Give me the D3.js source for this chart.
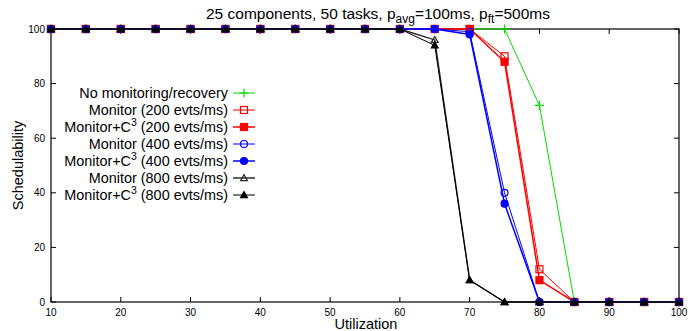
<!DOCTYPE html>
<html>
<head>
<meta charset="utf-8">
<script src="https://cdn.jsdelivr.net/npm/d3@7"></script>
<style>
  body { margin: 0; background: #fff; }
  text { font-family: "Liberation Sans", Arial, sans-serif; fill: #000; }
</style>
</head>
<body>
<svg id="chart" width="691" height="331"></svg>
<script>
// data
var utilization = [10, 15, 20, 25, 30, 35, 40, 45, 50, 55, 60, 65, 70, 75, 80, 85, 90, 95, 100];
var noMonitoring = [100, 100, 100, 100, 100, 100, 100, 100, 100, 100, 100, 100, 100, 100, 72, 0, 0, 0, 0];
var monitor200   = [100, 100, 100, 100, 100, 100, 100, 100, 100, 100, 100, 100, 100, 90, 12, 0, 0, 0, 0];
var monitorC3200 = [100, 100, 100, 100, 100, 100, 100, 100, 100, 100, 100, 100, 100, 88, 8, 0, 0, 0, 0];
var monitor400   = [100, 100, 100, 100, 100, 100, 100, 100, 100, 100, 100, 100, 99, 40, 0, 0, 0, 0, 0];
var monitorC3400 = [100, 100, 100, 100, 100, 100, 100, 100, 100, 100, 100, 100, 98, 36, 0, 0, 0, 0, 0];
var monitor800   = [100, 100, 100, 100, 100, 100, 100, 100, 100, 100, 100, 96, 8, 0, 0, 0, 0, 0, 0];
var monitorC3800 = [100, 100, 100, 100, 100, 100, 100, 100, 100, 100, 100, 94, 8, 0, 0, 0, 0, 0, 0];
var xTicks = [10, 20, 30, 40, 50, 60, 70, 80, 90, 100];
var yTicks = [0, 20, 40, 60, 80, 100];

var series = [
  {name: "No monitoring/recovery", vals: noMonitoring, color: "#00dd00", mark: "plus", w: 1},
  {name: "Monitor (200 evts/ms)", vals: monitor200, color: "#ff0000", mark: "sqOpen", w: 1},
  {name: "Monitor+C3 (200 evts/ms)", c3: true, vals: monitorC3200, color: "#ff0000", mark: "sq", w: 1.5},
  {name: "Monitor (400 evts/ms)", vals: monitor400, color: "#0000ff", mark: "circOpen", w: 1},
  {name: "Monitor+C3 (400 evts/ms)", c3: true, vals: monitorC3400, color: "#0000ff", mark: "circ", w: 1.5},
  {name: "Monitor (800 evts/ms)", vals: monitor800, color: "#222222", mark: "triOpen", w: 1.4},
  {name: "Monitor+C3 (800 evts/ms)", c3: true, vals: monitorC3800, color: "#000000", mark: "tri", w: 1}
];

var svg = d3.select("#chart");
var mLeft = 51, mRight = 679, mTop = 29, mBottom = 302;

var x = d3.scaleLinear().domain([10, 100]).range([mLeft, mRight]);
var y = d3.scaleLinear().domain([0, 100]).range([mBottom, mTop]);

// ticks (inward, mirrored)
var g = svg.append("g");
g.selectAll(".xt").data(xTicks).enter().append("g").each(function (d) {
  var s = d3.select(this);
  s.append("line").attr("x1", x(d)).attr("x2", x(d)).attr("y1", mBottom).attr("y2", mBottom - 5).attr("stroke", "#000");
  s.append("line").attr("x1", x(d)).attr("x2", x(d)).attr("y1", mTop).attr("y2", mTop + 5).attr("stroke", "#000");
  s.append("text").attr("x", x(d)).attr("y", mBottom + 14).attr("text-anchor", "middle")
    .style("font-size", "10px").text(d);
});
g.selectAll(".yt").data(yTicks).enter().append("g").each(function (d) {
  var s = d3.select(this);
  s.append("line").attr("x1", mLeft).attr("x2", mLeft + 5).attr("y1", y(d)).attr("y2", y(d)).attr("stroke", "#000");
  s.append("line").attr("x1", mRight).attr("x2", mRight - 5).attr("y1", y(d)).attr("y2", y(d)).attr("stroke", "#000");
  s.append("text").attr("x", mLeft - 6).attr("y", y(d) + 3.5).attr("text-anchor", "end")
    .style("font-size", "10px").text(d);
});

svg.append("rect").attr("x", mLeft).attr("y", mTop).attr("width", mRight - mLeft).attr("height", mBottom - mTop)
  .attr("fill", "none").attr("stroke", "#000").attr("stroke-width", 1.2);

// titles
var title = svg.append("text").attr("x", 378).attr("y", 19).attr("text-anchor", "middle").style("font-size", "15.5px");
title.append("tspan").text("25 components, 50 tasks, p");
title.append("tspan").attr("dy", 4).style("font-size", "12px").text("avg");
title.append("tspan").attr("dy", -4).text("=100ms, p");
title.append("tspan").attr("dy", 4).style("font-size", "12px").text("ft");
title.append("tspan").attr("dy", -4).text("=500ms");

svg.append("text").attr("x", 366).attr("y", 329).attr("text-anchor", "middle").style("font-size", "14.5px").text("Utilization");
svg.append("text").attr("transform", "translate(23," + ((mTop + mBottom) / 2) + ") rotate(-90)")
  .attr("text-anchor", "middle").style("font-size", "14.5px").text("Schedulability");

function drawMark(sel, kind, cx, cy, color) {
  var r = 3.5;
  if (kind === "plus") {
    sel.append("path").attr("d", "M" + (cx - 4.5) + "," + cy + "h9M" + cx + "," + (cy - 4.5) + "v9")
      .attr("stroke", color).attr("stroke-width", 1.2).attr("fill", "none");
  } else if (kind === "sqOpen" || kind === "sq") {
    sel.append("rect").attr("x", cx - r).attr("y", cy - r).attr("width", 2 * r).attr("height", 2 * r)
      .attr("fill", kind === "sq" ? color : "none").attr("stroke", color).attr("stroke-width", 1.2);
  } else if (kind === "circOpen" || kind === "circ") {
    sel.append("circle").attr("cx", cx).attr("cy", cy).attr("r", r)
      .attr("fill", kind === "circ" ? color : "none").attr("stroke", color).attr("stroke-width", 1.2);
  } else {
    var t = 3.4;
    sel.append("path").attr("d", "M" + cx + "," + (cy - t) + "L" + (cx + t) + "," + (cy + t * 0.75) + "L" + (cx - t) + "," + (cy + t * 0.75) + "Z")
      .attr("fill", kind === "tri" ? color : "none").attr("stroke", color).attr("stroke-width", 1.2);
  }
}

var line = d3.line().x(function (d) { return x(d[0]); }).y(function (d) { return y(d[1]); });

var plot = svg.append("g");
series.forEach(function (s) {
  var pts = utilization.map(function (u, i) { return [u, s.vals[i]]; });
  plot.append("path").datum(pts).attr("d", line).attr("fill", "none")
    .attr("stroke", s.color).attr("stroke-width", s.w);
  var mg = plot.append("g");
  pts.forEach(function (p) { drawMark(mg, s.mark, x(p[0]), y(p[1]), s.color); });
});

// legend
var legend = svg.append("g");
series.forEach(function (s, i) {
  var ly = 93 + i * 17;
  var t = legend.append("text").attr("x", 228).attr("y", ly + 5).attr("text-anchor", "end").style("font-size", "14.4px");
  if (s.c3) {
    var rest = s.name.replace("Monitor+C3", "");
    t.append("tspan").text("Monitor+C");
    t.append("tspan").attr("dy", -6).style("font-size", "10.5px").text("3");
    t.append("tspan").attr("dy", 6).text(rest);
  } else {
    t.text(s.name);
  }
  legend.append("line").attr("x1", 233).attr("x2", 255).attr("y1", ly).attr("y2", ly)
    .attr("stroke", s.color).attr("stroke-width", s.w);
  drawMark(legend, s.mark, 244, ly, s.color);
});
</script>
</body>
</html>
